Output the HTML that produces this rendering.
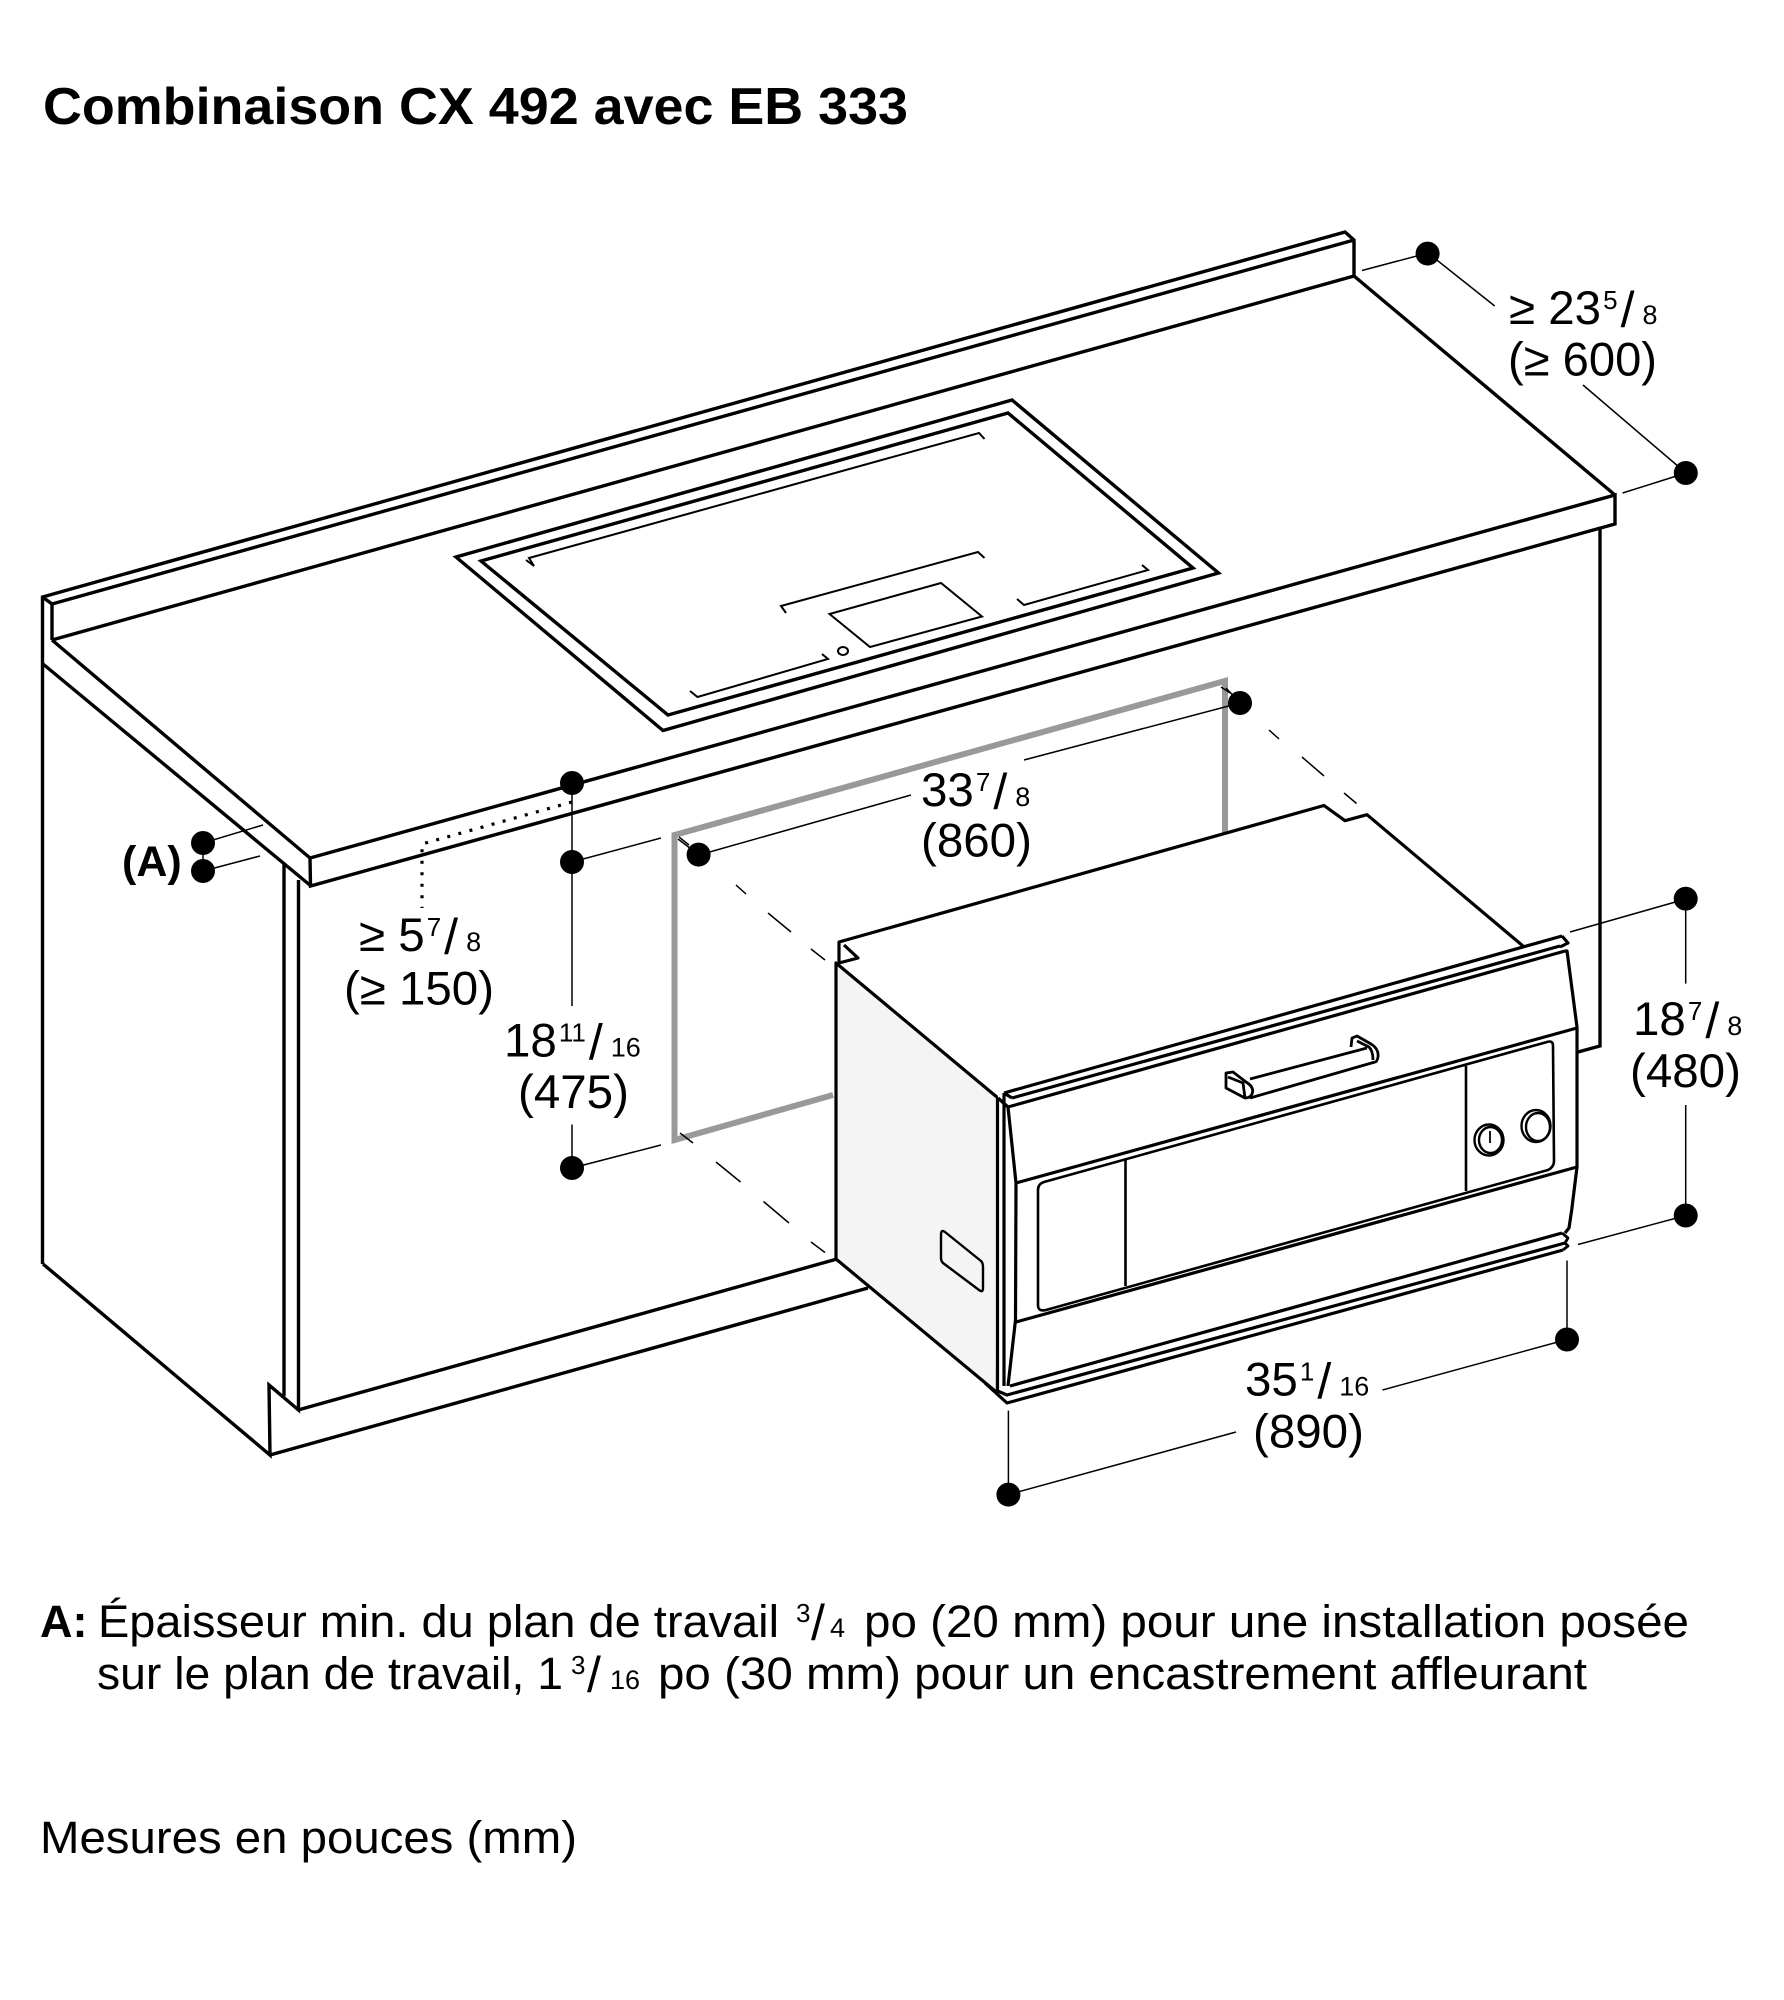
<!DOCTYPE html>
<html lang="fr"><head><meta charset="utf-8"><title>Combinaison CX 492 avec EB 333</title>
<style>html,body{margin:0;padding:0;background:#fff}svg{display:block}
text{font-family:"Liberation Sans",sans-serif;fill:#000}
.s{font-size:26px}.b{font-size:50px}.d{font-size:27px}</style></head><body>
<svg xmlns="http://www.w3.org/2000/svg" width="1784" height="2000" viewBox="0 0 1784 2000">
<rect width="1784" height="2000" fill="#fff"/>
<text x="43" y="124" font-size="52" font-weight="700" textLength="865" lengthAdjust="spacingAndGlyphs">Combinaison CX 492 avec EB 333</text>

<g fill="none" stroke="#000" stroke-width="3.4" stroke-linejoin="miter">
<!-- worktop -->
<polyline points="42.500,1264 42.500,597 1345,232 1354,240 1354,276"/>
<line x1="42.500" y1="597" x2="52" y2="604"/>
<polyline points="52,604 52,640"/>
<line x1="52" y1="604" x2="1354" y2="240"/>
<line x1="52" y1="640" x2="1354" y2="276"/>
<line x1="52" y1="640" x2="310" y2="858"/>
<line x1="43" y1="664" x2="311" y2="886"/>
<line x1="1354" y1="276" x2="1615" y2="495"/>
<polyline points="310,858 1615,495 1615,524 310.500,886 310,858"/>
<!-- cabinet -->
<polyline points="43,1264 270,1455 269,1385 298.500,1410 298.500,880"/>
<line x1="284" y1="864" x2="284" y2="1396"/>
<line x1="298" y1="1410" x2="837" y2="1259"/>
<line x1="270" y1="1455" x2="868" y2="1288"/>
<polyline points="1600,528 1600,1046 1578,1052"/>
<!-- hob -->
<polygon points="456,557 1012,400 1218.500,573 663,730.500"/>
<polygon points="481,561 1008,413 1193,568 668,715"/>
</g>
<g fill="none" stroke="#000" stroke-width="2">
<polyline points="526,560 534,566 529,558 979,433 984.500,439"/>
<polyline points="786,613 781,606 978,552 984.500,558"/>
<polygon points="829.500,614 941,583 982,616.500 870,647"/>
<ellipse cx="843" cy="651" rx="5" ry="4"/>
<polyline points="690,691 697.500,697 828,659 822,654"/>
<polyline points="1017,599 1024,605 1148,570 1142,565"/>
</g>
<!-- grey recess -->
<g fill="none" stroke="#999" stroke-width="6">
<polyline points="833,1095 674.500,1140 674.500,835 1225,681 1225,835"/>
</g>
<!-- dashes -->
<g stroke="#000" stroke-width="1.500" fill="none">
<line x1="679" y1="837" x2="689" y2="845"/><line x1="736" y1="885" x2="746" y2="894"/><line x1="768" y1="913" x2="791" y2="932"/><line x1="811" y1="949" x2="825" y2="960"/>
<line x1="680" y1="1133" x2="693" y2="1143"/><line x1="716" y1="1162" x2="740.500" y2="1182"/><line x1="763.500" y1="1201.500" x2="789" y2="1223"/><line x1="811" y1="1242" x2="825" y2="1252.500"/>
<line x1="1221" y1="687" x2="1230" y2="693"/><line x1="1269" y1="730" x2="1279" y2="739"/><line x1="1302" y1="757" x2="1324" y2="776"/><line x1="1344" y1="793" x2="1356.600" y2="803.500"/>
</g>
<!-- oven -->
<g stroke="#000" stroke-width="3.200" stroke-linejoin="round">
<polygon points="839,942 1324,805.500 1345,820.700 1367,814.700 1523,946 1560,940 1004,1095 858,958 839,963" fill="#fff" stroke="none"/>
<polyline fill="none" points="1523,946 1367,814.700 1345,820.700 1324,805.500 839,942 839,963 858,958 844,945"/>
<polygon points="836,963 998,1098 997.500,1393 836,1259" fill="#f4f4f4"/>
<polygon points="998,1094 1562,936 1568,943 1567,951 1577,1027 1577,1167 1569,1228 1568,1246 1563,1250 1007,1403 997.500,1393" fill="#fff" stroke="none"/>
<line x1="997.500" y1="1098" x2="997.500" y2="1393"/>
<line x1="1004" y1="1093" x2="1004" y2="1386"/>
<line x1="998" y1="1098" x2="1008" y2="1107"/>
<line x1="1004" y1="1093" x2="1562" y2="936"/>
<line x1="1012" y1="1098" x2="1560" y2="946"/>
<line x1="1008" y1="1107" x2="1565" y2="951"/>
<polyline fill="none" points="1004,1093 1012,1098"/>
<polyline fill="none" points="1562,936 1568,943 1560,947"/>
<path fill="none" d="M1565,951 L1567,951 L1577,1027 L1577,1167 L1571.700,1210 L1569,1228 L1565,1233"/>
<polyline fill="none" points="1008,1107 1016,1183 1015.500,1320 1008,1386"/>
<line x1="1016" y1="1183" x2="1577" y2="1028"/>
<line x1="1016" y1="1322" x2="1577" y2="1167"/>
<path fill="none" d="M1044,1182 L1547,1042 Q1553,1040 1553,1046 L1554,1161 Q1554,1167 1548,1170 L1046,1310 Q1038,1312 1038,1305 L1038,1190 Q1038,1184 1044,1182 Z" stroke-width="2.600"/>
<line x1="1125.500" y1="1160" x2="1125.500" y2="1286" stroke-width="2.600"/>
<line x1="1466" y1="1066" x2="1466" y2="1191" stroke-width="2.600"/>
<line x1="1010" y1="1386" x2="1562" y2="1233"/>
<polyline fill="none" points="997.500,1391 1007,1395 1565,1243"/>
<polyline fill="none" points="985,1383 1007,1403 1563,1250"/>
<polyline fill="none" points="1562,1233 1568,1238 1565,1243 1568,1246 1563,1250" stroke-width="2.800"/>
<!-- handle -->
<g fill="none" stroke-width="2.800">
<path d="M1226,1073 L1233,1072 L1246,1082 Q1252.700,1086 1252.700,1091 Q1252,1098 1245,1098 L1226,1088 Z"/>
<polyline points="1228,1077 1243,1083 1245,1098"/>
<line x1="1250" y1="1079" x2="1367" y2="1048"/>
<line x1="1250" y1="1098" x2="1375" y2="1062"/>
<path d="M1351,1047 L1352,1038 L1357,1036 L1371,1044 Q1379,1049 1378,1057 Q1377,1062 1375,1062"/>
<path d="M1357,1041 L1369,1047 Q1373,1051 1373,1060"/>
</g>
<!-- knobs -->
<g fill="none" stroke-width="2.400">
<ellipse cx="1489" cy="1140" rx="14.500" ry="15.500"/>
<ellipse cx="1490.500" cy="1140" rx="11.500" ry="13"/>
<line x1="1490" y1="1131" x2="1490" y2="1143" stroke-width="1.800"/>
<ellipse cx="1536" cy="1126" rx="14.500" ry="16"/>
<ellipse cx="1538" cy="1127" rx="12" ry="14"/>
</g>
<path fill="none" stroke-width="2.400" d="M945,1232 L981,1261 Q983,1263 983,1267 L983,1288 Q983,1293 979,1290 L943,1263 Q941,1261 941,1258 L941,1235 Q941,1229 945,1232 Z"/>
</g>

<!-- leaders -->
<g stroke="#000" stroke-width="1.500" fill="none">
<line x1="1362" y1="270.500" x2="1428" y2="253"/>
<line x1="1428" y1="253" x2="1494.700" y2="306"/>
<line x1="1583" y1="385" x2="1686" y2="473"/>
<line x1="1622.600" y1="493" x2="1686" y2="473"/>
<line x1="1240" y1="703" x2="1024" y2="760"/>
<line x1="911" y1="795" x2="699" y2="855"/>
<line x1="1226" y1="688" x2="1240" y2="703"/>
<line x1="572" y1="783" x2="572" y2="1006"/>
<line x1="572" y1="1124.500" x2="572" y2="1168"/>
<line x1="572" y1="862" x2="661" y2="838"/>
<line x1="572" y1="1168" x2="661" y2="1145"/>
<line x1="678" y1="839" x2="699" y2="855"/>
<line x1="203" y1="843" x2="263" y2="825"/>
<line x1="203" y1="871" x2="260" y2="856"/>
<line x1="203" y1="843" x2="203" y2="871"/>
<line x1="1570" y1="932" x2="1686" y2="899"/>
<line x1="1578" y1="1244.500" x2="1686" y2="1215.500"/>
<line x1="1685.700" y1="899" x2="1685.700" y2="983.600"/>
<line x1="1685.700" y1="1105" x2="1685.700" y2="1215.500"/>
<line x1="1567" y1="1260.500" x2="1567" y2="1339.500"/>
<line x1="1008.400" y1="1410.600" x2="1008.400" y2="1494.600"/>
<line x1="1008.400" y1="1494.600" x2="1236" y2="1432"/>
<line x1="1382.500" y1="1390" x2="1567" y2="1339.500"/>
</g>
<polyline points="572,802 422,844 422,908" fill="none" stroke="#000" stroke-width="3.200" stroke-dasharray="3 8.500"/>

<!-- dots -->
<g fill="#000">
<circle cx="1427.600" cy="253.600" r="12"/><circle cx="1685.800" cy="473" r="12"/>
<circle cx="1240" cy="703" r="12"/><circle cx="698.600" cy="854.600" r="12"/>
<circle cx="572" cy="783" r="12"/><circle cx="572" cy="862" r="12"/><circle cx="572" cy="1168" r="12"/>
<circle cx="203" cy="843" r="12"/><circle cx="203" cy="871" r="12"/>
<circle cx="1685.700" cy="898.700" r="12"/><circle cx="1685.700" cy="1215.500" r="12"/>
<circle cx="1567" cy="1339.500" r="12"/><circle cx="1008.400" cy="1494.600" r="12"/>
</g>

<!-- dimension text -->
<g font-size="47.500">
<text x="1509" y="324">≥ 23<tspan class="s" dx="2" dy="-15">5</tspan><tspan class="b" dx="3" dy="18">/</tspan><tspan class="d" dx="8" dy="-3">8</tspan></text>
<text x="1508" y="375.500" textLength="149" lengthAdjust="spacingAndGlyphs">(≥ 600)</text>
<text x="921" y="806">33<tspan class="s" dx="2" dy="-15">7</tspan><tspan class="b" dx="3" dy="18">/</tspan><tspan class="d" dx="8" dy="-3">8</tspan></text>
<text x="921" y="856.500">(860)</text>
<text x="359" y="951">≥ 5<tspan class="s" dx="2" dy="-15">7</tspan><tspan class="b" dx="3" dy="18">/</tspan><tspan class="d" dx="8" dy="-3">8</tspan></text>
<text x="344" y="1004.500" textLength="150" lengthAdjust="spacingAndGlyphs">(≥ 150)</text>
<text x="504" y="1056.500">18<tspan class="s" dx="2" dy="-15">11</tspan><tspan class="b" dx="3" dy="18">/</tspan><tspan class="d" dx="8" dy="-3">16</tspan></text>
<text x="518" y="1108">(475)</text>
<text x="1633" y="1035">18<tspan class="s" dx="2" dy="-15">7</tspan><tspan class="b" dx="3" dy="18">/</tspan><tspan class="d" dx="8" dy="-3">8</tspan></text>
<text x="1630" y="1087">(480)</text>
<text x="1245" y="1395.500">35<tspan class="s" dx="2" dy="-15">1</tspan><tspan class="b" dx="3" dy="18">/</tspan><tspan class="d" dx="8" dy="-3">16</tspan></text>
<text x="1253" y="1447.500">(890)</text>
<text x="122" y="876" font-size="43" font-weight="700">(A)</text>
</g>

<!-- notes -->
<g font-size="45">
<text x="40" y="1637" font-weight="700">A:</text>
<text x="98" y="1637" textLength="681" lengthAdjust="spacingAndGlyphs">Épaisseur min. du plan de travail</text>
<text x="796" y="1622" class="s">3</text><text x="811" y="1640" class="b">/</text><text x="830" y="1637" class="d">4</text>
<text x="864" y="1637" textLength="825" lengthAdjust="spacingAndGlyphs">po (20 mm) pour une installation posée</text>
<text x="97" y="1689" textLength="466" lengthAdjust="spacingAndGlyphs">sur le plan de travail, 1</text>
<text x="571" y="1674" class="s">3</text><text x="587" y="1692" class="b">/</text><text x="610" y="1689" class="d">16</text>
<text x="658" y="1689" textLength="929" lengthAdjust="spacingAndGlyphs">po (30 mm) pour un encastrement affleurant</text>
<text x="40" y="1853" textLength="537" lengthAdjust="spacingAndGlyphs">Mesures en pouces (mm)</text>
</g>
</svg>
</body></html>
